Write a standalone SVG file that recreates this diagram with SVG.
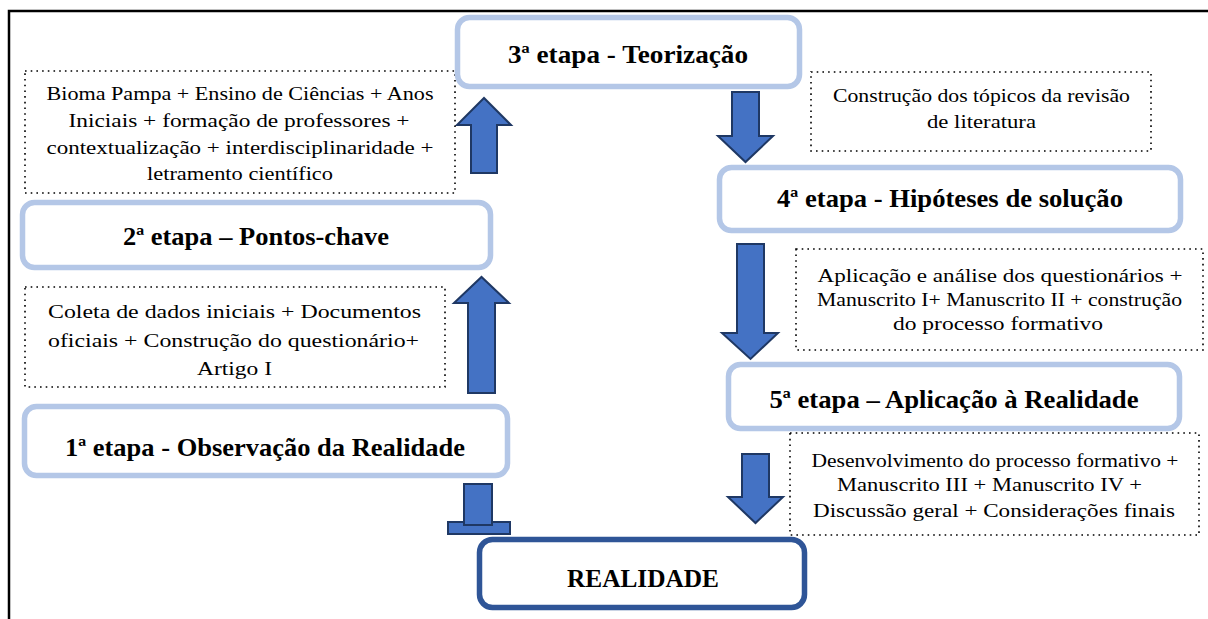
<svg xmlns="http://www.w3.org/2000/svg" width="1208" height="619" viewBox="0 0 1208 619">
<style>
.stage{fill:#fff;stroke:#B4C7E7;stroke-width:5.5}
.real{fill:#fff;stroke:#2F5597;stroke-width:5.5}
.note{fill:none;stroke:#000;stroke-width:1.6;stroke-dasharray:1.6 4.1}
.arr{fill:#4472C4;stroke:#1F3864;stroke-width:2;stroke-linejoin:miter}
.h{font-family:'Liberation Serif','Times New Roman',serif;font-weight:bold;font-size:25.5px;text-anchor:middle;fill:#000}
.t{font-family:'Liberation Serif','Times New Roman',serif;font-size:19px;text-anchor:middle;fill:#000}
</style>
<rect width="1208" height="619" fill="#fff"/>
<path d="M9,619 V11 H1208" fill="none" stroke="#000" stroke-width="2.5"/>

<g id="connectors">
<polygon class="arr" points="471,173 471,125 457,125 484,98 511,125 497,125 497,173"/>
<polygon class="arr" points="468,393 468,303 454,303 481.5,277 509,303 495,303 495,393"/>
<polygon class="arr" points="732,92 759,92 759,136 773,136 745.5,162 718,136 732,136"/>
<polygon class="arr" points="737,244 764,244 764,333 778,333 750.5,359 722,333 737,333"/>
<polygon class="arr" points="742,454 769,454 769,497 783,497 755.5,523 728,497 742,497"/>
<rect class="arr" x="448" y="522" width="62" height="12"/>
<rect class="arr" x="464" y="484" width="28" height="41"/>
</g>

<g id="note-bioma">
<rect class="note" x="25" y="71" width="430" height="122"/>
<text class="t" x="240" y="100" textLength="387" lengthAdjust="spacingAndGlyphs">Bioma Pampa + Ensino de Ciências + Anos</text>
<text class="t" x="239" y="127" textLength="341" lengthAdjust="spacingAndGlyphs">Iniciais + formação de professores +</text>
<text class="t" x="240" y="154" textLength="387" lengthAdjust="spacingAndGlyphs">contextualização + interdisciplinaridade +</text>
<text class="t" x="240" y="180" textLength="186" lengthAdjust="spacingAndGlyphs">letramento científico</text>
</g>

<g id="note-coleta">
<rect class="note" x="25" y="287" width="420" height="100"/>
<text class="t" x="234.5" y="318" font-size="20.5" textLength="373" lengthAdjust="spacingAndGlyphs">Coleta de dados iniciais + Documentos</text>
<text class="t" x="233.5" y="347" font-size="20.5" textLength="371" lengthAdjust="spacingAndGlyphs">oficiais + Construção do questionário+</text>
<text class="t" x="234.5" y="375" font-size="20.5" textLength="75" lengthAdjust="spacingAndGlyphs">Artigo I</text>
</g>

<g id="note-construcao">
<rect class="note" x="811" y="72" width="340" height="79"/>
<text class="t" x="981.5" y="102" font-size="19.5" textLength="297" lengthAdjust="spacingAndGlyphs">Construção dos tópicos da revisão</text>
<text class="t" x="981.5" y="128" font-size="19.5" textLength="109" lengthAdjust="spacingAndGlyphs">de literatura</text>
</g>

<g id="note-aplicacao">
<rect class="note" x="796" y="249" width="407" height="101"/>
<text class="t" x="1000" y="282" textLength="365" lengthAdjust="spacingAndGlyphs">Aplicação e análise dos questionários +</text>
<text class="t" x="999.5" y="306" textLength="365" lengthAdjust="spacingAndGlyphs">Manuscrito I+ Manuscrito II + construção</text>
<text class="t" x="998" y="330" textLength="210" lengthAdjust="spacingAndGlyphs">do processo formativo</text>
</g>

<g id="note-desenvolvimento">
<rect class="note" x="790" y="433" width="409" height="102"/>
<text class="t" x="995" y="467" font-size="19.5" textLength="367" lengthAdjust="spacingAndGlyphs">Desenvolvimento do processo formativo +</text>
<text class="t" x="989.5" y="491" font-size="19.5" textLength="305" lengthAdjust="spacingAndGlyphs">Manuscrito III + Manuscrito IV +</text>
<text class="t" x="994" y="517" font-size="19.5" textLength="362" lengthAdjust="spacingAndGlyphs">Discussão geral + Considerações finais</text>
</g>

<g id="stage3">
<rect class="stage" x="457.5" y="17.5" width="342" height="69" rx="12"/>
<text class="h" x="628" y="63" textLength="240" lengthAdjust="spacingAndGlyphs">3ª etapa - Teorização</text>
</g>

<g id="stage4">
<rect class="stage" x="719.5" y="167.5" width="461" height="63" rx="12"/>
<text class="h" x="950" y="207" textLength="346" lengthAdjust="spacingAndGlyphs">4ª etapa - Hipóteses de solução</text>
</g>

<g id="stage2">
<rect class="stage" x="22.5" y="202.5" width="468" height="65" rx="12"/>
<text class="h" x="256" y="245" textLength="266" lengthAdjust="spacingAndGlyphs">2ª etapa – Pontos-chave</text>
</g>

<g id="stage1">
<rect class="stage" x="24.5" y="406.5" width="483" height="69" rx="12"/>
<text class="h" x="265" y="456" textLength="400" lengthAdjust="spacingAndGlyphs">1ª etapa - Observação da Realidade</text>
</g>

<g id="stage5">
<rect class="stage" x="728.5" y="364.5" width="451" height="64" rx="12"/>
<text class="h" x="954" y="408" textLength="369" lengthAdjust="spacingAndGlyphs">5ª etapa – Aplicação à Realidade</text>
</g>

<g id="realidade">
<rect class="real" x="479.5" y="539.5" width="325" height="68" rx="13"/>
<text class="h" x="643" y="587" textLength="152" lengthAdjust="spacingAndGlyphs">REALIDADE</text>
</g>
</svg>
